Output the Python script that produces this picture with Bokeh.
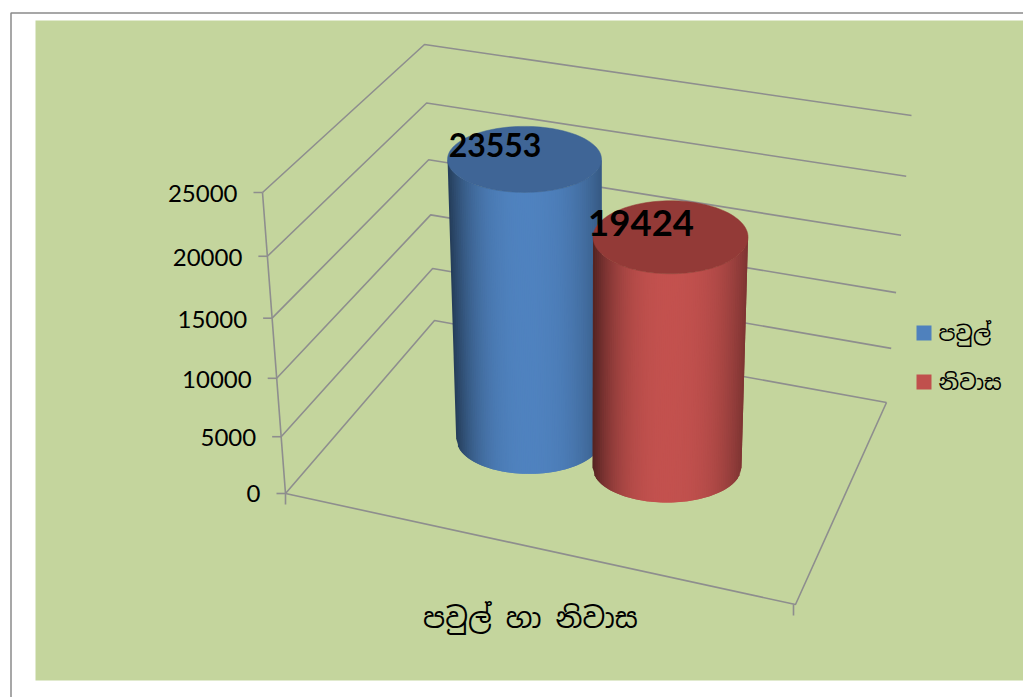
import numpy as np
from bokeh.plotting import figure
from bokeh.models import Range1d
from bokeh.core.properties import value
from bokeh.embed import file_html
from bokeh.resources import INLINE

# ---- data
categories = ["පවුල්", "නිවාස"]
series_values = [23553, 19424]
axis_ticks = [0, 5000, 10000, 15000, 20000, 25000]
axis_title = "පවුල් හා නිවාස"

# ---- styles
side_colors = [(80, 131, 192), (196, 82, 79)]
top_colors = ["#3F6596", "#933A37"]
legend_colors = ["#4F81BD", "#C0504D"]
edge_dark = [(0.50, 0.28), (0.54, 0.32)]
grid_color = "#8E8E8E"
bg_color = "#C4D59D"
SINHALA = "Noto Sans Sinhala, Noto Sans, sans-serif"
AXIS_MAX = 25000
PERSP = 0.93
LABEL_SIZES = ["32px", "36.5px"]

# ---- 3D box: corners on the page (front/back, left/right; floor and ceiling)
FLOOR = dict(fl=(285, 493), fr=(795, 604), bl=(434, 320), br=(886, 402))
CEIL = dict(fl=(262, 192), fr=(803, 292), bl=(424, 44), br=(911, 115))
# cylinder placement in box units (across, deep) and radii (base rx, ry, top rx, ry)
PLACE = [(0.349, 0.51), (0.637, 0.505)]
RADII = [(73, 35, 77, 33), (74.5, 35, 77.5, 36.5)]
RISE = 1.02


def s(v):
    t = v / AXIS_MAX
    return PERSP * t / (1 + (PERSP - 1) * t)


def bil(c, a, d):
    return ((1 - a) * (1 - d) * np.array(c["fl"]) + a * (1 - d) * np.array(c["fr"])
            + (1 - a) * d * np.array(c["bl"]) + a * d * np.array(c["br"]))


def proj(a, d, v, rise=1.0):
    f = bil(FLOOR, a, d)
    c = bil(CEIL, a, d)
    return f + (c - f) * s(v) * rise


p = figure(width=1023, height=697, x_range=Range1d(0, 1023), y_range=Range1d(697, 0),
           output_backend="svg", toolbar_location=None, min_border=0,
           outline_line_color=None, background_fill_color="white", border_fill_color="white")
p.axis.visible = False
p.grid.visible = False

# sheet
p.line([10.5, 10.5, 1023], [697, 12.5, 12.5], line_color="#8A8A8A", line_width=1.5)
p.quad(left=[35], right=[1023], top=[20], bottom=[680], fill_color=bg_color, line_color=None)

# walls: grid lines on side and back, floor outline
for v in axis_ticks:
    pts = [proj(0, 0, v), proj(0, 1, v), proj(1, 1, v)]
    p.line([q[0] for q in pts], [q[1] for q in pts], line_color=grid_color, line_width=1.6)
    e = pts[0]
    p.line([e[0] - 9, e[0]], [e[1], e[1]], line_color=grid_color, line_width=1.6)
    yoff = 1 if v else 0
    p.text([e[0] - 25], [e[1] + yoff], text=[f"{v}"], text_font=value("Lato"), text_font_size="24px",
           text_align="right", text_baseline="middle", text_color="black")
fl, fr, br = proj(0, 0, 0), proj(1, 0, 0), proj(1, 1, 0)
p.line([fl[0], fr[0], br[0]], [fl[1], fr[1], br[1]], line_color=grid_color, line_width=1.6)
top_fl = proj(0, 0, AXIS_MAX)
p.line([top_fl[0], fl[0], fl[0]], [top_fl[1], fl[1], fl[1] + 11], line_color=grid_color, line_width=1.6)
p.line([fr[0] - 2, fr[0] - 2], [fr[1], fr[1] + 11], line_color=grid_color, line_width=1.6)

# cylinders
N = 80
tops = []
for i, val in enumerate(series_values):
    a, d = PLACE[i]
    rxb, ryb, rxt, ryt = RADII[i]
    base = proj(a, d, 0)
    top = proj(a, d, val, RISE)
    tops.append(top)
    fs = np.linspace(-1, 1, N + 1)
    kl, kr = edge_dark[i]
    for j in range(N):
        # each strip runs on under the next one, so no seam shows between them
        f0, f1 = fs[j], fs[min(j + 2, N)]
        arc0, arc1 = np.sqrt(max(1 - f0 ** 2, 0)), np.sqrt(max(1 - f1 ** 2, 0))
        m = (fs[j] + fs[j + 1]) / 2
        k = (kl if m < 0 else kr) * abs(m) ** 2.8
        b = 1 - k - 0.04 * abs(m)
        col = "#%02X%02X%02X" % tuple(int(c * b) for c in side_colors[i])
        p.patch([top[0] + rxt * f0, top[0] + rxt * f1, base[0] + rxb * f1, base[0] + rxb * f0],
                [top[1] + ryt * arc0, top[1] + ryt * arc1, base[1] + ryb * arc1, base[1] + ryb * arc0],
                fill_color=col, line_color=None)
    th = np.linspace(0, 2 * np.pi, 121)
    p.patch(top[0] + rxt * np.cos(th), top[1] + ryt * np.sin(th), fill_color=top_colors[i],
            line_color=top_colors[i], line_width=0.5)

# data labels
for i, val in enumerate(series_values):
    p.text([tops[i][0] - 29.5], [tops[i][1] - 14.5], text=[str(val)], text_font=value("Lato"),
           text_font_style="bold", text_font_size=LABEL_SIZES[i], text_align="center",
           text_baseline="middle", text_color="black")

# legend
LEG_Y = [332.5, 381.5]
for i, name in enumerate(categories):
    p.rect([923.5], [LEG_Y[i]], width=15, height=15, fill_color=legend_colors[i], line_color=None)
    p.text([938], [LEG_Y[i]], text=[name], text_font=value(SINHALA), text_font_size="21.5px",
           text_align="left", text_baseline="middle", text_color="black")

# axis title
p.text([530], [617], text=[axis_title], text_font=value(SINHALA), text_font_size="28px",
       text_align="center", text_baseline="middle", text_color="black")

open("out.html", "w").write(file_html(p, INLINE))
